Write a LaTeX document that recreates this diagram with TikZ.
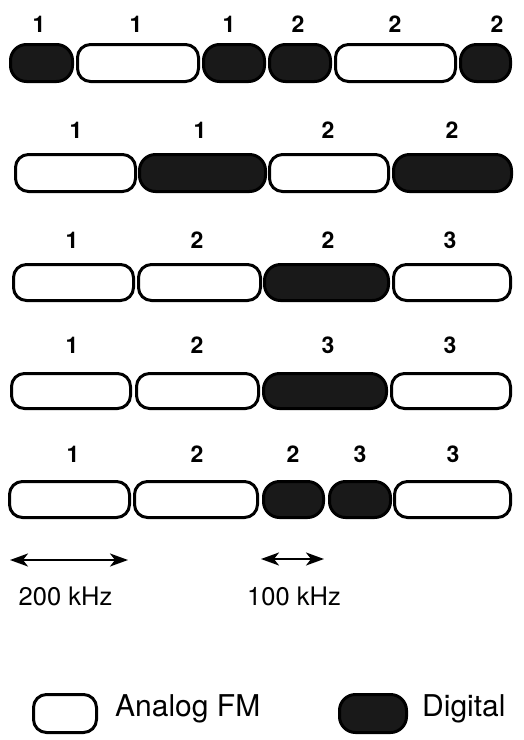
\documentclass[tikz,border=0pt]{standalone}
\usepackage{fontspec}
\setmainfont{TeX Gyre Heros}
\usetikzlibrary{arrows.meta}
\newcommand{\chbox}[6]{\node[#2, minimum width={#4-#3-3}, minimum height={#6-#5-3}] (#1) at ({(#3+#4)/2},{(#5+#6)/2}) {};}
\begin{document}
\begin{tikzpicture}[x=1pt,y=-1pt,
  ana/.style={draw=black, line width=3pt, fill=white, rounded corners=13pt, inner sep=0pt, outer sep=0pt},
  dig/.style={draw=black, line width=3pt, fill=black!90, rounded corners=16pt, inner sep=0pt, outer sep=0pt},
  lbl/.style={font=\fontsize{23}{23}\selectfont\bfseries, inner sep=0pt, anchor=base},
  khz/.style={font=\fontsize{25.5}{25.5}\selectfont, inner sep=0pt, anchor=base},
  leg/.style={font=\fontsize{30}{30}\selectfont, inner sep=0pt, anchor=base west},
  arr/.style={line width=2.2pt, {Stealth[length=18pt,width=13pt,inset=5pt]}-{Stealth[length=18pt,width=13pt,inset=5pt]}}]
\useasboundingbox (0,0) rectangle (524,740);
% Row 1
\chbox{r1a}{dig}{9}{74}{43}{83}
\chbox{r1b}{ana}{76}{200}{43}{83}
\chbox{r1c}{dig}{202}{266}{43}{83}
\chbox{r1d}{dig}{268}{332}{43}{83}
\chbox{r1e}{ana}{334}{457}{43}{83}
\chbox{r1f}{dig}{459}{512}{43}{83}
\node[lbl] (l1a) at (39,32) {1};
\node[lbl] (l1b) at (136,32) {1};
\node[lbl] (l1c) at (229,32) {1};
\node[lbl] (l1d) at (298,32) {2};
\node[lbl] (l1e) at (395,32) {2};
\node[lbl] (l1f) at (497,32) {2};
% Row 2
\chbox{r2a}{ana}{14}{137}{153}{193}
\chbox{r2b}{dig}{138}{267}{153}{193}
\chbox{r2c}{ana}{268}{390}{153}{193}
\chbox{r2d}{dig}{392}{513}{153}{193}
\node[lbl] (l2a) at (76,138) {1};
\node[lbl] (l2b) at (200,138) {1};
\node[lbl] (l2c) at (328,138) {2};
\node[lbl] (l2d) at (452,138) {2};
% Row 3
\chbox{r3a}{ana}{12}{135}{263}{302}
\chbox{r3b}{ana}{137}{262}{263}{302}
\chbox{r3c}{dig}{263}{390}{263}{302}
\chbox{r3d}{ana}{392}{512}{263}{302}
\node[lbl] (l3a) at (72,248) {1};
\node[lbl] (l3b) at (197,248) {2};
\node[lbl] (l3c) at (328,248) {2};
\node[lbl] (l3d) at (450,248) {3};
% Row 4
\chbox{r4a}{ana}{10}{132}{372}{410}
\chbox{r4b}{ana}{135}{260}{372}{410}
\chbox{r4c}{dig}{262}{388}{372}{410}
\chbox{r4d}{ana}{390}{512}{372}{410}
\node[lbl] (l4a) at (72,353) {1};
\node[lbl] (l4b) at (197,353) {2};
\node[lbl] (l4c) at (328,353) {3};
\node[lbl] (l4d) at (450,353) {3};
% Row 5
\chbox{r5a}{ana}{8}{131}{480}{519}
\chbox{r5b}{ana}{133}{259}{480}{519}
\chbox{r5c}{dig}{262}{325}{480}{519}
\chbox{r5d}{dig}{328}{392}{480}{519}
\chbox{r5e}{ana}{393}{512}{480}{519}
\node[lbl] (l5a) at (73,462) {1};
\node[lbl] (l5b) at (197,462) {2};
\node[lbl] (l5c) at (293,462) {2};
\node[lbl] (l5d) at (360,462) {3};
\node[lbl] (l5e) at (453,462) {3};
% Scale arrows
\coordinate (s1a) at (10,560);
\coordinate (s1b) at (128,560);
\draw[arr] (s1a) -- (s1b);
\node[khz] (t1) at (65.5,605) {200 kHz};
\coordinate (s2a) at (261,559);
\coordinate (s2b) at (324,559);
\draw[arr] (s2a) -- (s2b);
\node[khz] (t2) at (294,605) {100 kHz};
% Legend
\chbox{ga}{ana}{32}{98}{693}{734}
\node[leg] (gat) at (115,716) {Analog FM};
\chbox{gd}{dig}{338}{408}{693}{734}
\node[leg] (gdt) at (422,716) {Digital};
\end{tikzpicture}
\end{document}
